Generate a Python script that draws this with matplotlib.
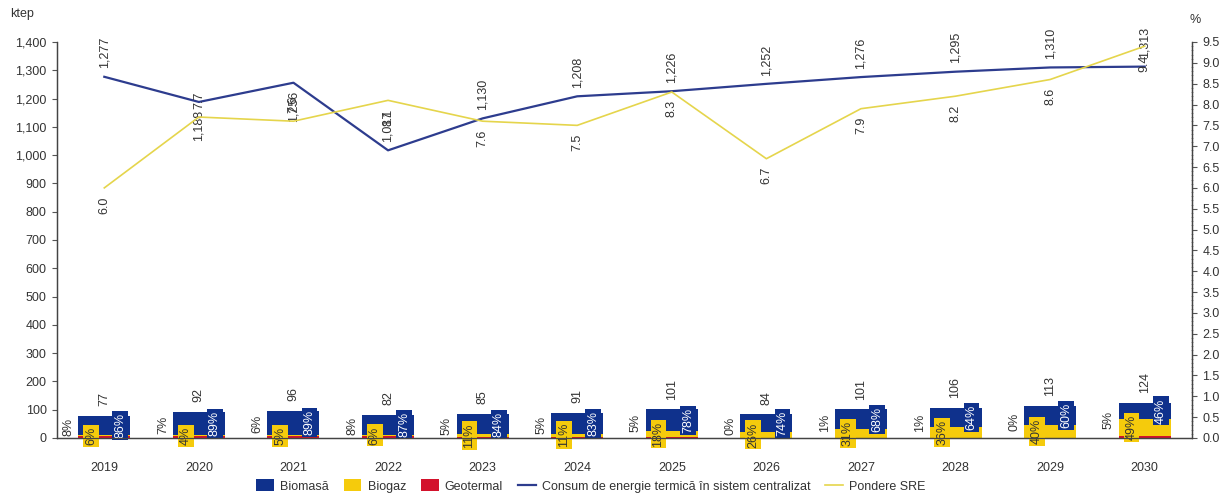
import numpy as np
import matplotlib
matplotlib.use('Agg')
import matplotlib.pyplot as plt
from matplotlib.ticker import FuncFormatter, MultipleLocator
from matplotlib.patches import Patch
from matplotlib.lines import Line2D

plt.rcParams['font.family'] = ['Liberation Sans', 'DejaVu Sans']

# ---------------- data ----------------
years = ['2019', '2020', '2021', '2022', '2023', '2024', '2025', '2026', '2027', '2028', '2029', '2030']
total_ktep = [77, 92, 96, 82, 85, 91, 101, 84, 101, 106, 113, 124]
share_biomasa = [86, 89, 89, 87, 84, 83, 78, 74, 68, 64, 60, 46]
share_biogaz = [6, 4, 5, 6, 11, 11, 18, 26, 31, 36, 40, 49]
share_geotermal = [8, 7, 6, 8, 5, 5, 5, 0, 1, 1, 0, 5]
consum = [1277, 1188, 1256, 1017, 1130, 1208, 1226, 1252, 1276, 1295, 1310, 1313]
pondere_sre = [6.0, 7.7, 7.6, 8.1, 7.6, 7.5, 8.3, 6.7, 7.9, 8.2, 8.6, 9.4]

# label side for line labels (1 = above, -1 = below)
consum_label_side = [1, -1, -1, 1, 1, 1, 1, 1, 1, 1, 1, 1]
sre_label_side = [-1, 1, 1, -1, -1, -1, -1, -1, -1, -1, -1, -1]

# ---------------- styles ----------------
C_BIOMASA = '#0F318C'
C_BIOGAZ = '#F5CB0C'
C_GEO = '#D3122C'
C_LINE_BLUE = '#2D3C8E'
C_LINE_YEL = '#E5D54C'
TXT = '#333333'
FS = 9

tot = np.array(total_ktep, dtype=float)
geo = tot * np.array(share_geotermal) / 100.0
bio_g = tot * np.array(share_biogaz) / 100.0
bio_m = tot * np.array(share_biomasa) / 100.0
x = np.arange(len(years))

fig = plt.figure(figsize=(12.29, 4.95), dpi=100)
ax = fig.add_axes([57 / 1229, 57 / 495, (1192 - 57) / 1229, (438 - 42) / 495])
ax2 = ax.twinx()

bw = 0.55
ax.bar(x, geo, bw, color=C_GEO, zorder=2)
ax.bar(x, bio_g, bw, bottom=geo, color=C_BIOGAZ, zorder=2)
ax.bar(x, bio_m, bw, bottom=geo + bio_g, color=C_BIOMASA, zorder=2)

# bar labels
for i in range(len(x)):
    # biomasa label box
    ax.text(x[i] + 0.17, geo[i] + bio_g[i] + bio_m[i] / 2, f'{share_biomasa[i]}%', rotation=90,
            ha='center', va='center', color='white', fontsize=FS, zorder=4,
            bbox=dict(boxstyle='square,pad=0.15', fc=C_BIOMASA, ec='none'))
    # biogaz label box
    ax.text(x[i] - 0.14, geo[i] + bio_g[i] / 2, f'{share_biogaz[i]}%', rotation=90,
            ha='center', va='center', color=TXT, fontsize=FS, zorder=4,
            bbox=dict(boxstyle='square,pad=0.15', fc=C_BIOGAZ, ec='none'))
    # geotermal label
    ax.text(x[i] - 0.38, tot[i] * 0.52, f'{share_geotermal[i]}%', rotation=90,
            ha='center', va='center', color=TXT, fontsize=FS, zorder=4)
    # total label
    ax.annotate(f'{total_ktep[i]}', (x[i], tot[i]), xytext=(0, 7), textcoords='offset points',
                rotation=90, ha='center', va='bottom', color=TXT, fontsize=FS, zorder=4)

# lines
ax.plot(x, consum, color=C_LINE_BLUE, lw=1.6, zorder=3)
ax2.plot(x, pondere_sre, color=C_LINE_YEL, lw=1.2, zorder=3)

for i in range(len(x)):
    s = consum_label_side[i]
    ax.annotate(f'{consum[i]:,}', (x[i], consum[i]), xytext=(0, 6 * s), textcoords='offset points',
                rotation=90, ha='center', va='bottom' if s > 0 else 'top', color=TXT, fontsize=FS)
    s = sre_label_side[i]
    ax2.annotate(f'{pondere_sre[i]:.1f}', (x[i], pondere_sre[i]), xytext=(0, 6 * s), textcoords='offset points',
                 rotation=90, ha='center', va='bottom' if s > 0 else 'top', color=TXT, fontsize=FS)

# axes
ax.set_xlim(-0.5, len(x) - 0.5)
ax.set_ylim(0, 1400)
ax2.set_ylim(0, 9.5)
ax.set_xticks(x)
ax.set_xticklabels(years)
ax.tick_params(axis='x', length=0, pad=17, labelsize=FS, labelcolor=TXT)
ax.yaxis.set_major_locator(MultipleLocator(100))
ax.yaxis.set_major_formatter(FuncFormatter(lambda v, p: f'{int(v):,}'))
ax.tick_params(axis='y', length=3.5, width=0.8, color='#555555', labelsize=FS, labelcolor=TXT, pad=4)
ax2.yaxis.set_major_locator(MultipleLocator(0.5))
ax2.yaxis.set_minor_locator(MultipleLocator(0.1))
ax2.yaxis.set_major_formatter(FuncFormatter(lambda v, p: f'{v:.1f}'))
ax2.tick_params(axis='y', which='major', length=3.5, width=0.8, color='#555555', labelsize=FS, labelcolor=TXT, pad=4)
ax2.tick_params(axis='y', which='minor', length=2, width=0.5, color='#777777', direction='inout')

for a in (ax, ax2):
    a.spines['top'].set_visible(False)
    for sp in ('left', 'right', 'bottom'):
        a.spines[sp].set_color('#444444')
        a.spines[sp].set_linewidth(0.9)
ax.set_zorder(ax2.get_zorder() - 1) if False else None
ax.patch.set_visible(False)

fig.text(10 / 1229, 1 - 14 / 495, 'ktep', fontsize=FS, color=TXT, ha='left', va='center')
fig.text(1195 / 1229, 1 - 20 / 495, '%', fontsize=FS, color=TXT, ha='center', va='center')

handles = [Patch(fc=C_BIOMASA), Patch(fc=C_BIOGAZ), Patch(fc=C_GEO),
           Line2D([], [], color=C_LINE_BLUE, lw=1.6), Line2D([], [], color=C_LINE_YEL, lw=1.2)]
labels = ['Biomasă', 'Biogaz', 'Geotermal', 'Consum de energie termică în sistem centralizat', 'Pondere SRE']
fig.legend(handles, labels, loc='center', bbox_to_anchor=(591 / 1229, 1 - 486 / 495), ncol=5,
           frameon=False, fontsize=FS, handlelength=1.4, handleheight=1.1, columnspacing=1.2,
           handletextpad=0.5, labelcolor=TXT)

fig.savefig('out.png', dpi=100)
